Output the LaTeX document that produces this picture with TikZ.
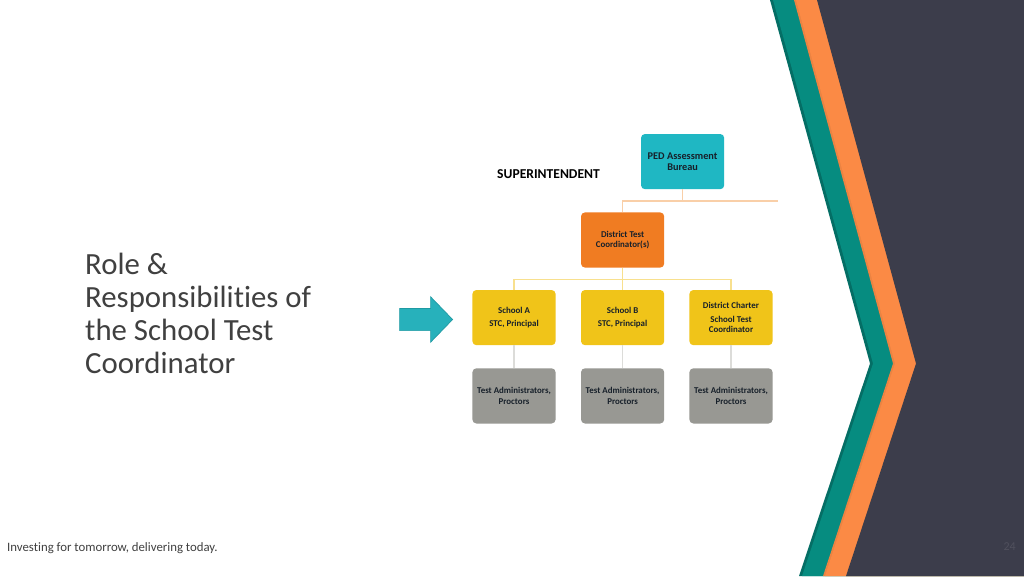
\documentclass[tikz,border=0pt]{standalone}
\usepackage{fontspec}
\setmainfont{Carlito}[Ligatures=NoCommon]
\usetikzlibrary{calc}
\definecolor{bgdark}{HTML}{3C3D4B}
\definecolor{bandorange}{HTML}{FB8A45}
\definecolor{bandorangedk}{HTML}{EB8342}
\definecolor{bandteal}{HTML}{068C80}
\definecolor{bandtealdk}{HTML}{046E65}
\definecolor{boxteal}{HTML}{1FB7C3}
\definecolor{boxorange}{HTML}{F07C22}
\definecolor{boxyellow}{HTML}{F0C419}
\definecolor{boxgray}{HTML}{989893}
\definecolor{arrowteal}{HTML}{27B1BB}
\definecolor{arrowedge}{HTML}{1F9AA3}
\definecolor{lineorange}{HTML}{F9CFA8}
\definecolor{lineyellow}{HTML}{F8E08E}
\definecolor{linegray}{HTML}{DCDCD9}
\definecolor{inktext}{HTML}{404040}
\definecolor{boxtext}{HTML}{17202A}
\tikzset{
  x=1pt,y=-1pt,
  orgbox/.style={rounded corners=4pt,minimum width=83.2pt,minimum height=55.2pt,inner sep=0pt,outer sep=0pt,
    text=boxtext,align=center,font=\fontsize{8.9}{10.5}\selectfont\bfseries,anchor=north west},
  tealbox/.style={orgbox,fill=boxteal,font=\fontsize{10.3}{11.8}\selectfont\bfseries},
  orangebox/.style={orgbox,fill=boxorange},
  yellowbox/.style={orgbox,fill=boxyellow},
  graybox/.style={orgbox,fill=boxgray},
  linkorange/.style={draw=lineorange,line width=1.2pt},
  linkyellow/.style={draw=lineyellow,line width=1.2pt},
  linkgray/.style={draw=linegray,line width=1.4pt},
}
\begin{document}
\begin{tikzpicture}
\useasboundingbox (0,0) rectangle (1024,576);
\fill[white] (0,0) rectangle (1024,576);
% chevron bands
\fill[bandtealdk] (770,0) -- (870,363.5) -- (799,576) -- (1024,576) -- (1024,0) -- cycle;
\fill[bandteal] (773,0) -- (873,363.5) -- (802,576) -- (1024,576) -- (1024,0) -- cycle;
\fill[bandorangedk] (794,0) -- (893,363.5) -- (823,576) -- (1024,576) -- (1024,0) -- cycle;
\fill[bandorange] (796,0) -- (895,363.5) -- (825,576) -- (1024,576) -- (1024,0) -- cycle;
\fill[bgdark] (817,0) -- (916,363.5) -- (846,576) -- (1024,576) -- (1024,0) -- cycle;
% boxes
\node[tealbox] (ped) at (641,134) {PED Assessment\\Bureau};
\node[orangebox] (dtc) at (581,212.4) {District Test\\Coordinator(s)};
\node[yellowbox] (sa) at (472.4,290) {School A\\[3.4pt]STC, Principal};
\node[yellowbox] (sb) at (581,290) {School B\\[3.4pt]STC, Principal};
\node[yellowbox] (sc) at (689.4,290) {District Charter\\[3.4pt]School Test\\Coordinator};
\node[graybox] (ta) at (472.4,368.3) {Test Administrators,\\Proctors};
\node[graybox] (tb) at (581,368.3) {Test Administrators,\\Proctors};
\node[graybox] (tc) at (689.4,368.3) {Test Administrators,\\Proctors};
% connectors
\coordinate (pedj) at (ped.south |- 0,201);
\coordinate (freeend) at (778,201);
\coordinate (dtcj) at (dtc.south |- 0,279.5);
\draw[linkorange] (ped.south) -- (pedj);
\draw[linkorange] (dtc.north) |- (freeend);
\draw[linkyellow] (dtc.south) -- (sb.north);
\draw[linkyellow] (sa.north) |- (dtcj) -| (sc.north);
\draw[linkgray] (sa.south) -- (ta.north);
\draw[linkgray] (sb.south) -- (tb.north);
\draw[linkgray] (sc.south) -- (tc.north);
% arrow
\draw[fill=arrowteal,draw=arrowedge,line width=0.7pt] (399.6,308.4) -- (430.6,308.4) -- (430.6,296.8) -- (452.6,319.5) -- (430.6,342.2) -- (430.6,330.6) -- (399.6,330.6) -- cycle;
% texts
\node[anchor=west,inner sep=0pt,font=\fontsize{13.6}{15}\selectfont\bfseries,text=black] (sup) at (497,174) {SUPERINTENDENT};
\node[anchor=north west,inner sep=0pt,align=left,text=inktext,font=\fontsize{30.8}{33}\selectfont] (title) at (85,253) {Role \&\\Responsibilities of\\the School Test\\Coordinator};
\node[anchor=west,inner sep=0pt,text=inktext,font=\fontsize{12.8}{14}\selectfont] (foot) at (7,548) {Investing for tomorrow, delivering today.};
\node[anchor=east,inner sep=0pt,text=bgdark!90!white,font=\fontsize{12}{14}\selectfont] (page) at (1016,546.5) {24};
\end{tikzpicture}
\end{document}
